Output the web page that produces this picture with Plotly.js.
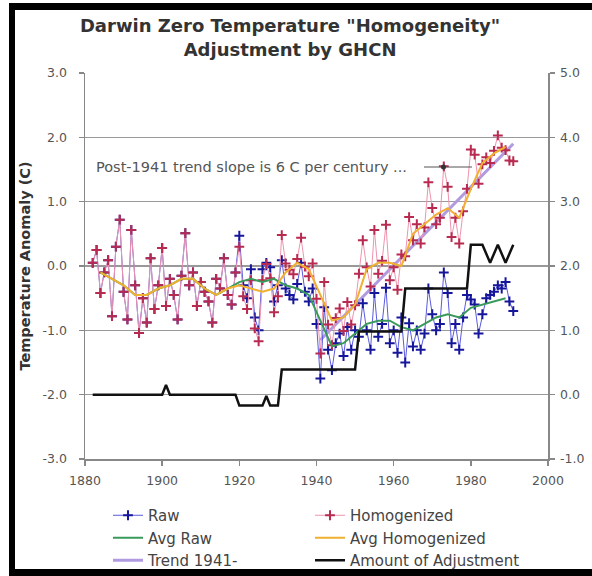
<!DOCTYPE html>
<html>
<head>
<meta charset="utf-8">
<script src="https://cdn.plot.ly/plotly-3.0.1.min.js"></script>
<style>
  html, body { margin: 0; padding: 0; background: #fff; }
  #wrap { position: relative; width: 592px; height: 576px; overflow: hidden; }
  #chart { position: absolute; left: 0; top: 0; width: 592px; height: 576px; }
  #frame { position: absolute; left: 9px; top: 3px; width: 583px; height: 573px;
           box-sizing: border-box; border-left: 6px solid #000; border-top: 7px solid #000;
           border-bottom: 7px solid #000; pointer-events: none; }
</style>
</head>
<body>
<div id="wrap"><div id="chart"></div><div id="frame"></div></div>
<script>
// ---- data ----
const years = [1882,1883,1884,1885,1886,1887,1888,1889,1890,1891,1892,1893,1894,1895,1896,1897,1898,1899,1900,1901,
  1902,1903,1904,1905,1906,1907,1908,1909,1910,1911,1912,1913,1914,1915,1916,1917,1918,1919,1920,1921,
  1922,1923,1924,1925,1926,1927,1928,1929,1930,1931,1932,1933,1934,1935,1936,1937,1938,1939,1940,1941,
  1942,1943,1944,1945,1946,1947,1948,1949,1950,1951,1952,1953,1954,1955,1956,1957,1958,1959,1960,1961,
  1962,1963,1964,1965,1966,1967,1968,1969,1970,1971,1972,1973,1974,1975,1976,1977,1978,1979,1980,1981,
  1982,1983,1984,1985,1986,1987,1988,1989,1990,1991];

const rawTemp = [0.05,0.25,-0.42,-0.1,0.09,-0.78,0.3,0.72,-0.4,-0.83,0.56,-0.3,-1.04,-0.5,-0.88,0.12,-0.67,-0.3,0.28,-0.62,
  -0.2,-0.45,-0.83,-0.15,0.51,-0.3,-0.1,-0.62,-0.25,-0.4,-0.55,-0.88,-0.2,-0.35,0.12,-0.45,-0.6,-0.1,0.47,-0.3,
  -0.5,-0.05,-0.8,-1.0,-0.05,0.05,-0.02,-0.55,-0.3,0.09,-0.35,-0.45,-0.52,-0.28,0.05,-0.4,-0.55,-0.35,-0.9,-1.75,
  -0.64,-1.3,-1.62,-1.2,-1.05,-1.4,-0.95,-1.3,-1.0,-1.1,-0.58,-1.0,-1.3,-0.42,-1.1,-0.9,-0.34,-1.2,-1.0,-1.35,
  -0.8,-1.5,-0.89,-1.25,-1.0,-1.3,-1.05,-0.35,-0.75,-1.0,-0.9,-0.1,-0.42,-1.2,-0.9,-1.3,-0.8,-0.45,-0.52,-0.6,
  -1.05,-0.75,-0.5,-0.45,-0.4,-0.3,-0.35,-0.25,-0.55,-0.7];

const homogTemp = [0.05,0.25,-0.42,-0.1,0.09,-0.78,0.3,0.72,-0.4,-0.83,0.56,-0.3,-1.04,-0.5,-0.88,0.12,-0.67,-0.3,0.28,-0.62,
  -0.2,-0.45,-0.83,-0.15,0.51,-0.3,-0.1,-0.62,-0.25,-0.4,-0.55,-0.88,-0.2,-0.35,0.12,-0.45,-0.6,-0.1,0.30,-0.47,
  -0.67,-0.22,-0.97,-1.17,-0.22,0.03,-0.19,-0.72,-0.47,0.48,0.04,-0.06,-0.13,0.11,0.44,-0.01,-0.16,0.04,-0.51,-1.36,
  -0.25,-0.91,-1.23,-0.81,-0.66,-1.01,-0.56,-0.91,-0.61,-0.12,0.40,-0.02,-0.32,0.56,-0.12,0.08,0.64,-0.22,-0.02,-0.37,
  0.18,0.15,0.76,0.40,0.65,0.35,0.60,1.30,0.90,0.65,0.75,1.55,1.23,0.45,0.75,0.35,0.85,1.20,1.81,1.73,
  1.28,1.58,1.69,1.60,1.79,2.03,1.84,1.80,1.64,1.63];

const adjustment = [0,0,0,0,0,0,0,0,0,0,0,0,0,0,0,0,0,0,0,0.15,
  0,0,0,0,0,0,0,0,0,0,0,0,0,0,0,0,0,0,-0.17,-0.17,
  -0.17,-0.17,-0.17,-0.17,-0.17,-0.02,-0.17,-0.17,-0.17,0.39,0.39,0.39,0.39,0.39,0.39,0.39,0.39,0.39,0.39,0.39,
  0.39,0.39,0.39,0.39,0.39,0.39,0.39,0.39,0.39,0.98,0.98,0.98,0.98,0.98,0.98,0.98,0.98,0.98,0.98,0.98,
  0.98,1.65,1.65,1.65,1.65,1.65,1.65,1.65,1.65,1.65,1.65,1.65,1.65,1.65,1.65,1.65,1.65,1.65,2.33,2.33,
  2.33,2.33,2.19,2.05,2.19,2.33,2.19,2.05,2.19,2.33];

const avgYears = [1884,1887,1890,1893,1896,1899,1902,1905,1908,1911,1914,1917,1920,1923,1926,1929,1932,1935,1938,
  1941,1944,1947,1950,1953,1956,1959,1962,1965,1968,1971,1974,1977,1980,1983,1986,1989];
const avgRaw = [-0.1,-0.2,-0.3,-0.45,-0.45,-0.35,-0.3,-0.2,-0.2,-0.35,-0.45,-0.35,-0.25,-0.2,-0.25,-0.2,-0.3,-0.35,-0.45,
  -0.85,-1.25,-1.2,-1.05,-0.9,-0.85,-0.85,-0.95,-1.0,-0.9,-0.8,-0.75,-0.8,-0.65,-0.6,-0.55,-0.5];
const avgHomog = [-0.1,-0.2,-0.3,-0.45,-0.45,-0.35,-0.3,-0.2,-0.2,-0.35,-0.45,-0.35,-0.3,-0.35,-0.4,-0.35,-0.1,0.05,-0.05,
  -0.45,-0.85,-0.8,-0.6,-0.05,0.05,0.05,0.0,0.5,0.65,0.8,0.9,0.75,1.2,1.6,1.75,1.85];

const trendYears = [1941, 1991];
const trendValues = [-1.15, 1.9];

const leftTicks = [-3, -2, -1, 0, 1, 2, 3];
const leftTickText = ["-3.0", "-2.0", "-1.0", "0.0", "1.0", "2.0", "3.0"];
const rightTicks = [-1, 0, 1, 2, 3, 4, 5];
const rightTickText = ["-1.0", "0.0", "1.0", "2.0", "3.0", "4.0", "5.0"];
const xTicks = [1880, 1900, 1920, 1940, 1960, 1980, 2000];

const titleText = 'Darwin Zero Temperature "Homogeneity"<br>Adjustment by GHCN';
const noteText = 'Post-1941 trend slope is 6 C per century ...';

// ---- chart ----
const FONT = 'DejaVu Sans, Verdana, sans-serif';

const traces = [
  { name: 'Trend 1941-', x: trendYears, y: trendValues, type: 'scatter', mode: 'lines', legend: 'legend',
    legendrank: 3, line: { color: '#b09ae0', width: 3 } },
  { name: 'Raw', x: years, y: rawTemp, type: 'scatter', mode: 'lines+markers', legend: 'legend',
    legendrank: 1, line: { color: '#5a5ae0', width: 1 },
    marker: { symbol: 'cross-thin', size: 7, color: '#16169a', line: { color: '#16169a', width: 2 } } },
  { name: 'Homogenized', x: years, y: homogTemp, type: 'scatter', mode: 'lines+markers', legend: 'legend2',
    legendrank: 1, line: { color: '#ee94ae', width: 1 },
    marker: { symbol: 'cross-thin', size: 7, color: '#b82a50', line: { color: '#b82a50', width: 2 } } },
  { name: 'Avg Raw', x: avgYears, y: avgRaw, type: 'scatter', mode: 'lines', legend: 'legend',
    legendrank: 2, line: { color: '#3a9a5a', width: 2 } },
  { name: 'Avg Homogenized', x: avgYears, y: avgHomog, type: 'scatter', mode: 'lines', legend: 'legend2',
    legendrank: 2, line: { color: '#f0b030', width: 2 } },
  { name: 'Amount of Adjustment', x: years, y: adjustment, type: 'scatter', mode: 'lines', legend: 'legend2',
    legendrank: 3, yaxis: 'y2', line: { color: '#111', width: 2.5 } }
];

const axisCommon = {
  showline: true, linecolor: '#888', linewidth: 1.5, ticks: 'outside', ticklen: 5,
  tickcolor: '#888', tickwidth: 1.5, zeroline: false,
  tickfont: { family: FONT, size: 12.5, color: '#555' }
};

const PL = 85, PR = 548, PT = 73, PB = 459;
const px = v => (v - PL) / (PR - PL);
const py = v => (PB - v) / (PB - PT);

const layout = {
  width: 592, height: 576,
  margin: { l: PL, r: 592 - PR, t: PT, b: 576 - PB, pad: 0, autoexpand: false },
  paper_bgcolor: '#fff', plot_bgcolor: '#fff',
  font: { family: FONT, color: '#444' },
  title: { text: titleText, x: 0.49, xref: 'container', xanchor: 'center',
           y: 0.944, yref: 'container', yanchor: 'top',
           font: { family: FONT, size: 18, weight: 'bold', color: '#333' } },
  xaxis: Object.assign({}, axisCommon, { range: [1880, 2000], tickvals: xTicks, showgrid: false,
           ticklabelstandoff: 4 }),
  yaxis: Object.assign({}, axisCommon, { range: [-3, 3], tickvals: leftTicks, ticktext: leftTickText,
           showgrid: true, gridcolor: '#999', gridwidth: 1.5, ticklabelstandoff: 9,
           title: { text: 'Temperature Anomaly (C)', standoff: 8,
                    font: { family: FONT, size: 14.5, weight: 'bold', color: '#333' } } }),
  yaxis2: Object.assign({}, axisCommon, { range: [-1, 5], tickvals: rightTicks, ticktext: rightTickText,
           overlaying: 'y', side: 'right', showgrid: false, ticklabelstandoff: 3 }),
  showlegend: true,
  legend: { x: px(108), xref: 'paper', xanchor: 'left', y: py(499), yref: 'paper', yanchor: 'top',
            font: { family: FONT, size: 15, color: '#444' }, itemwidth: 30, bgcolor: 'rgba(0,0,0,0)',
            tracegroupgap: 0, traceorder: 'normal' },
  legend2: { x: px(310), xref: 'paper', xanchor: 'left', y: py(499), yref: 'paper', yanchor: 'top',
            font: { family: FONT, size: 15, color: '#444' }, itemwidth: 30, bgcolor: 'rgba(0,0,0,0)',
            tracegroupgap: 0, traceorder: 'normal' },
  annotations: [
    { text: noteText, xref: 'paper', yref: 'paper', x: px(94), y: py(167),
      xanchor: 'left', yanchor: 'middle', showarrow: false,
      font: { family: FONT, size: 14.5, color: '#555' } }
  ],
  shapes: [
    { type: 'line', xref: 'paper', yref: 'paper', x0: px(424), x1: px(472),
      y0: py(167), y1: py(167), line: { color: '#555', width: 1 } },
    { type: 'circle', xref: 'paper', yref: 'paper', x0: px(441), x1: px(446),
      y0: py(169.5), y1: py(164.5), fillcolor: '#333', line: { color: '#333', width: 0 } }
  ]
};

Plotly.newPlot('chart', traces, layout, { displayModeBar: false, staticPlot: true });
</script>
</body>
</html>
